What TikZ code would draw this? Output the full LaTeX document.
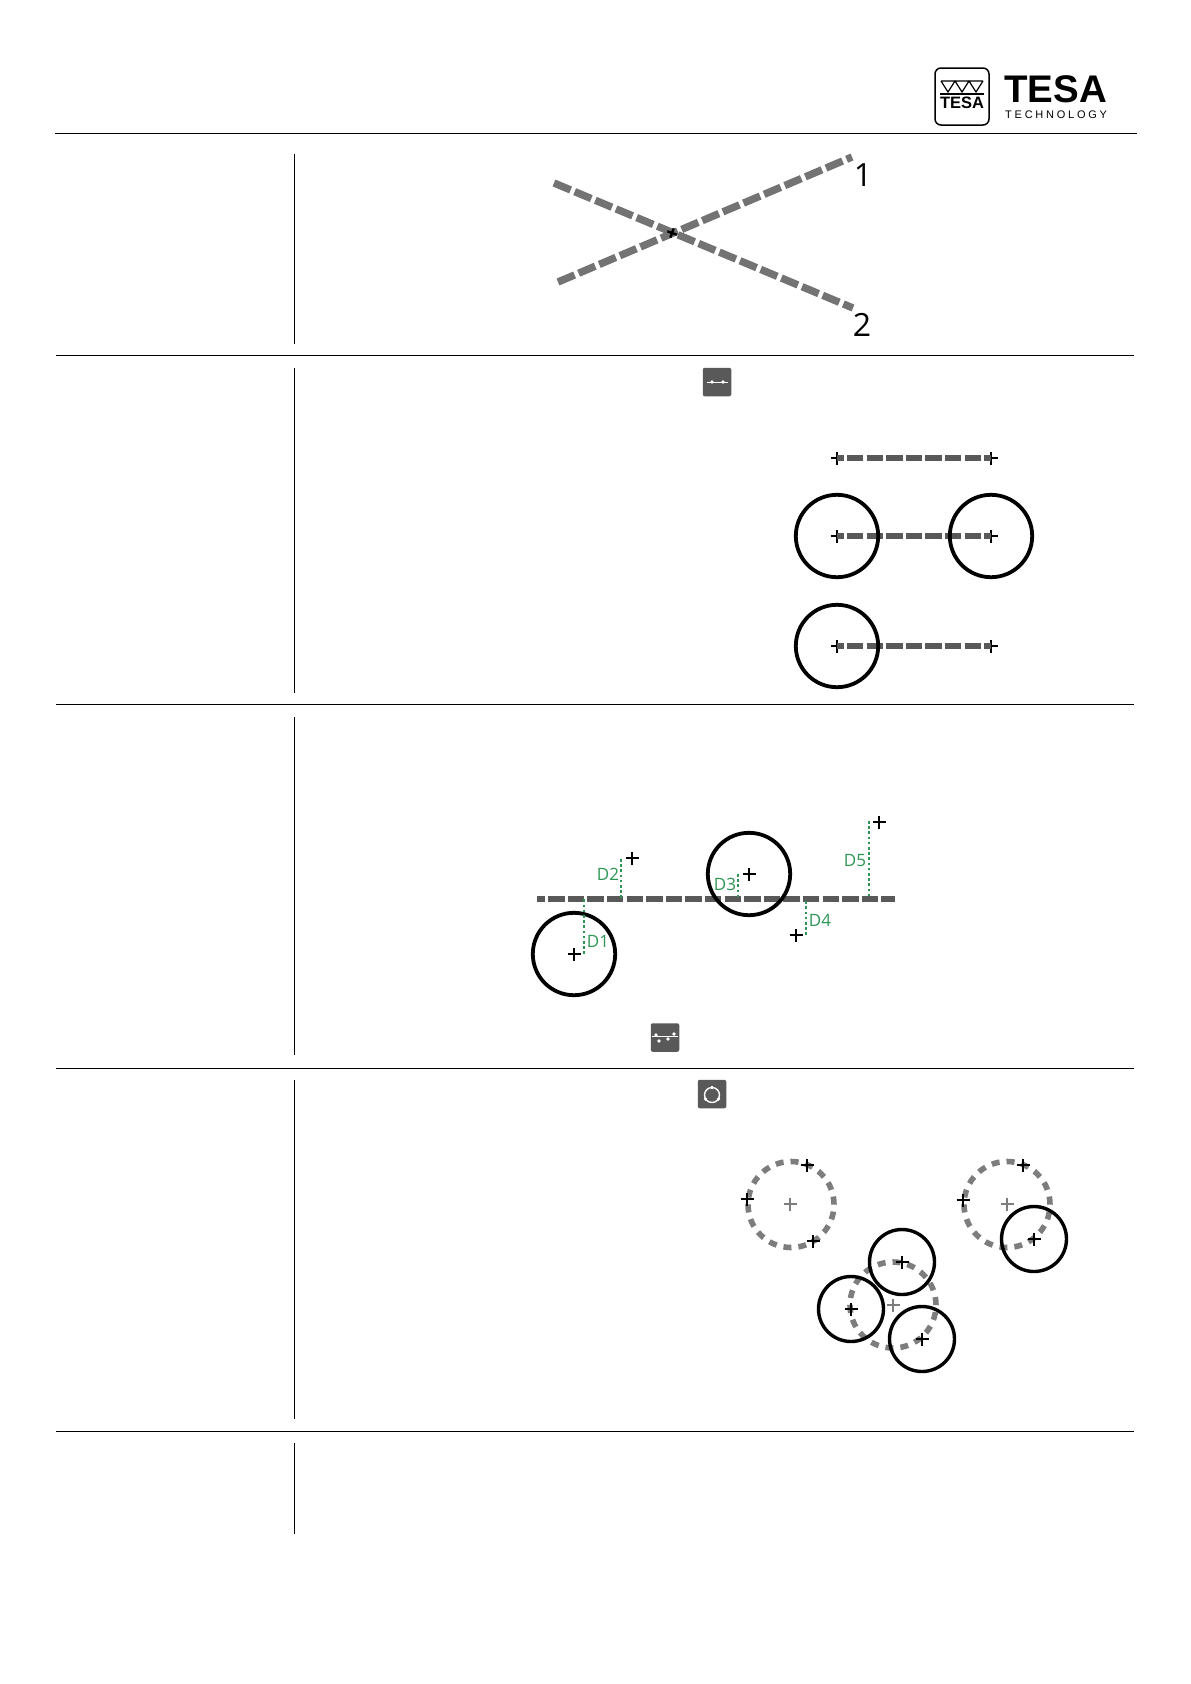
\documentclass[tikz,border=0pt]{standalone}
\usepackage{fontspec}
\setmainfont{Open Sans}
\newfontfamily\logofont{Liberation Sans}
\newfontfamily\logospaced[LetterSpace=25]{Liberation Sans}
\usetikzlibrary{shapes.misc, positioning}
\definecolor{dashgray}{RGB}{89,89,89}
\definecolor{linegray}{RGB}{115,115,115}
\definecolor{ringgray}{RGB}{125,125,125}
\definecolor{distgreen}{RGB}{45,150,85}
\tikzset{
    % Separators
    sepline/.style={line width=1pt, black},
    % Points and circles
    ptcross/.style={cross out, draw=black, rotate=45, minimum size=9.2pt, inner sep=0pt, outer sep=0pt, line width=2.8pt},
    ptsmall/.style={ptcross, line width=2pt},
    ptcentre/.style={ptcross, draw=ringgray, line width=1.6pt},
    solidcirc/.style={circle, draw=black, line width=3.8pt, minimum size=#1, inner sep=0pt, outer sep=0pt},
    solidcirc/.default=82.4pt,
    ringcirc/.style={circle, draw=ringgray, line width=5.6pt, minimum size=86pt, inner sep=0pt, outer sep=0pt, dash pattern=on 8pt off 7pt},
    % Lines
    xline/.style={linegray, line width=7.4pt, dash pattern=on 18pt off 4.4pt},
    dline/.style={dashgray, line width=6.4pt, dash pattern=on 16.4pt off 3.2pt},
    gline/.style={distgreen, line width=2.5pt, dash pattern=on 2.6pt off 2.6pt},
    % Labels
    numlbl/.style={font=\fontsize{32}{32}\selectfont, inner sep=0pt},
    glbl/.style={font=\fontsize{17}{17}\selectfont, text=distgreen, inner sep=0pt},
    % Toolbar icons
    iconbox/.style={rectangle, rounded corners=2pt, fill=dashgray, minimum size=28.5pt, inner sep=0pt},
    icondot/.style={circle, fill=white, minimum size=3.6pt, inner sep=0pt},
}
\begin{document}
\begin{tikzpicture}[x=1pt, y=-1pt]
\useasboundingbox (0,0) rectangle (1191,1684);
\fill[white] (0,0) rectangle (1191,1684);

% Logo
\draw[line width=1.5pt, rounded corners=6pt] (935,68) rectangle (989,125);
\draw[line width=1.2pt] (941,81) -- (983,81) (941,81) -- (948,92) -- (955,81) -- (962,92) -- (969,81) -- (976,92) -- (983,81);
\draw[line width=1.2pt] (940,94) -- (984,94);
\node[inner sep=0pt, font=\logofont\bfseries\fontsize{16.5}{16.5}\selectfont] (logoa) at (962,103) {TESA};
\node[inner sep=0pt, font=\logofont\bfseries\fontsize{38.5}{38.5}\selectfont, anchor=west] (logob) at (1004,89.5) {TESA};
\node[inner sep=0pt, font=\logospaced\fontsize{11}{11}\selectfont, anchor=west] (logoc) at (1005,115) {TECHNOLOGY};

% Separators
\draw[sepline] (55,133.5) -- (1137,133.5);
\foreach \ya in {355.5,704.5,1068.5,1431.5}
    \draw[sepline] (56,\ya) -- (1134,\ya);
\foreach \ya/\yb in {153.5/344,368/692.5,717/1055,1080/1419,1443/1534}
    \draw[sepline] (294.5,\ya) -- (294.5,\yb);

% Crossing lines
\coordinate (aa) at (558,282);
\coordinate (ab) at (852,157);
\coordinate (ba) at (554,183);
\coordinate (bb) at (853,308);
\draw[xline] (aa) -- (ab);
\draw[xline] (ba) -- (bb);
\node[ptcross, rotate=-20, minimum size=7pt, line width=2.4pt] (xpt) at (672,233) {};
\node[numlbl] (num1) at (863,175) {1};
\node[numlbl] (num2) at (862,325) {2};

% Distance between points
\node[iconbox] (lineicon) at (717,382) {};
\draw[white, line width=0.9pt] (707,382) -- (728,382);
\node[icondot] (la) at (712,382) {};
\node[icondot] (lb) at (723,382) {};

\node[ptcross] (pa) at (837,458) {};
\node[ptcross] (pb) at (991,458) {};
\node[ptcross] (pc) at (837,536) {};
\node[ptcross] (pd) at (991,536) {};
\node[ptcross] (pe) at (837,646) {};
\node[ptcross] (pf) at (991,646) {};
\draw[dline, dash phase=9.6pt] (pa.center) -- (pb.center);
\draw[dline, dash phase=9.6pt] (pc.center) -- (pd.center);
\draw[dline, dash phase=9.6pt] (pe.center) -- (pf.center);
\node[solidcirc] (ca) at (837,536) {};
\node[solidcirc] (cb) at (991,536) {};
\node[solidcirc] (cc) at (837,646) {};

% Best fit line
\coordinate (fita) at (537,899);
\coordinate (fitb) at (895,899);
\draw[dline, dash phase=8.4pt] (fita) -- (fitb);
\node[ptcross] (d1pt) at (574,954) {};
\node[ptcross] (d2pt) at (632,858) {};
\node[ptcross] (d3pt) at (749,874) {};
\node[ptcross] (d4pt) at (796,935) {};
\node[ptcross] (d5pt) at (879,822) {};
\node[solidcirc] (d1c) at (574,954) {};
\node[solidcirc] (d3c) at (749,874) {};
\foreach \nm/\xa/\ya in {d1/584/954,d2/621/859,d3/738/874,d4/806/935,d5/869/821}{
    \coordinate (\nm a) at (\xa,\ya);
    \coordinate (\nm b) at (\xa,899);
    \draw[gline] (\nm a) -- (\nm b);
}
\node[glbl] (d1l) at (598,941) {D1};
\node[glbl] (d2l) at (608,874) {D2};
\node[glbl] (d3l) at (725,884) {D3};
\node[glbl] (d4l) at (820,920) {D4};
\node[glbl] (d5l) at (855,861) {D5};

\node[iconbox] (fiticon) at (665,1037.5) {};
\draw[white, line width=0.8pt] (652,1036) -- (678,1036);
\node[icondot] (fa) at (656,1035) {};
\node[icondot] (fb) at (659,1041) {};
\node[icondot] (fc) at (668,1039) {};
\node[icondot] (fd) at (674,1034) {};

% Circle through three points
\node[iconbox] (ringicon) at (712,1094) {};
\draw[white, line width=1.4pt] (712,1095) circle (7.5pt);
\node[icondot] (ra) at (712,1087.5) {};
\node[icondot] (rb) at (705.5,1099) {};
\node[icondot] (rc) at (718.5,1099) {};

\node[ringcirc] (ringa) at (791,1204.5) {};
\node[ringcirc] (ringb) at (1007,1204.5) {};
\node[ringcirc] (ringc) at (893,1305) {};
\node[ptcentre] (cena) at (790,1204) {};
\node[ptcentre] (cenb) at (1007,1204) {};
\node[ptcentre] (cenc) at (893,1305) {};
\node[ptsmall] (ta) at (807,1165) {};
\node[ptsmall] (tb) at (747,1199) {};
\node[ptsmall] (tc) at (813,1241) {};
\node[ptsmall] (ua) at (1023,1165) {};
\node[ptsmall] (ub) at (963,1200) {};
\node[ptsmall] (uc) at (1034,1239) {};
\node[ptsmall] (va) at (902,1262) {};
\node[ptsmall] (vb) at (851,1309) {};
\node[ptsmall] (vc) at (922,1339) {};
\node[solidcirc=65pt, line width=3.4pt] (uc1) at (1034,1239) {};
\node[solidcirc=65pt, line width=3.4pt] (va1) at (902,1262) {};
\node[solidcirc=65pt, line width=3.4pt] (vb1) at (851,1309) {};
\node[solidcirc=65pt, line width=3.4pt] (vc1) at (922,1339) {};
\end{tikzpicture}
\end{document}
